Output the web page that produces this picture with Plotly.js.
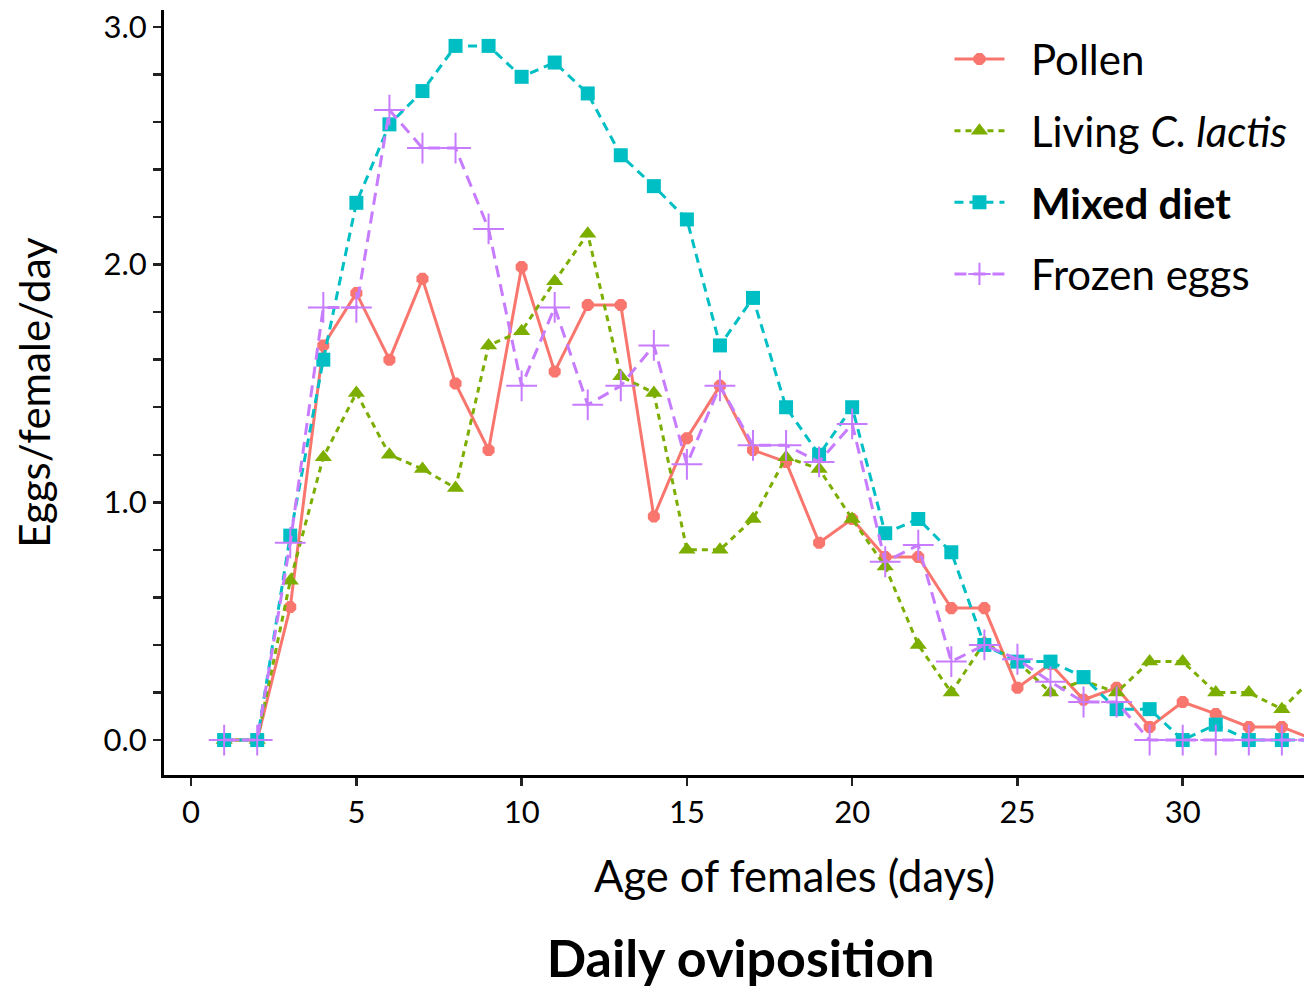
<!DOCTYPE html>
<html><head><meta charset="utf-8">
<script src="https://cdn.plot.ly/plotly-3.0.1.min.js"></script>
<style>html,body{margin:0;padding:0;background:#fff}</style>
</head><body><div id="chart" style="width:1304px;height:988px"></div>
<script>
const days = [1,2,3,4,5,6,7,8,9,10,11,12,13,14,15,16,17,18,19,20,21,22,23,24,25,26,27,28,29,30,31,32,33,34];
const pollen = [0,0,0.56,1.66,1.88,1.60,1.94,1.50,1.22,1.99,1.55,1.83,1.83,0.94,1.27,1.49,1.22,1.17,0.83,0.93,0.77,0.77,0.555,0.555,0.22,0.32,0.17,0.22,0.055,0.16,0.11,0.055,0.055,0];
const living = [0,0,0.67,1.19,1.46,1.20,1.14,1.06,1.66,1.72,1.93,2.13,1.53,1.46,0.80,0.80,0.93,1.19,1.14,0.93,0.73,0.40,0.20,0.41,0.33,0.20,0.25,0.20,0.33,0.33,0.20,0.20,0.13,0.27];
const mixed = [0,0,0.86,1.60,2.26,2.59,2.73,2.92,2.92,2.79,2.85,2.72,2.46,2.33,2.19,1.66,1.86,1.40,1.20,1.40,0.87,0.93,0.79,0.40,0.33,0.33,0.265,0.13,0.13,0,0.065,0,0,0];
const frozen = [0,0,0.83,1.82,1.82,2.65,2.49,2.49,2.15,1.49,1.82,1.41,1.49,1.66,1.16,1.49,1.24,1.24,1.17,1.33,0.75,0.82,0.33,0.40,0.34,0.245,0.16,0.16,0,0,0,0,0,0];
const seriesNames = ['Pollen', 'Living <i>C. lactis</i>', '<b>Mixed diet</b>', 'Frozen eggs'];
const colors = ['#F8766D', '#7CAE00', '#00BFC4', '#C77CFF'];

const FONT = 'Lato, "Open Sans", sans-serif';
const pad = '\u00a0\u00a0';

const traces = [
  {x: days, y: pollen, name: pad + seriesNames[0], legendgroup: 'a', mode: 'lines+markers',
   line: {color: colors[0], width: 3, dash: 'solid'},
   marker: {symbol: 'octagon', size: 13, color: colors[0]}},
  {x: days, y: living, name: pad + seriesNames[1], legendgroup: 'b', mode: 'lines+markers',
   line: {color: colors[1], width: 3, dash: '6px,5px'},
   marker: {symbol: 'triangle-up', size: 15, color: colors[1]}},
  {x: days, y: mixed, name: pad + seriesNames[2], legendgroup: 'c', mode: 'lines+markers',
   line: {color: colors[2], width: 3, dash: '9px,6px'},
   marker: {symbol: 'square', size: 14, color: colors[2]}},
  {x: days, y: frozen, name: pad + seriesNames[3], legendgroup: 'd', mode: 'lines+markers',
   line: {color: colors[3], width: 3, dash: '12px,7px'},
   marker: {symbol: 'cross-thin-open', size: 22, color: colors[3], line: {color: colors[3], width: 2}}}
];

const layout = {
  width: 1304, height: 988,
  margin: {l: 164, r: 0, t: 10, b: 213},
  paper_bgcolor: '#ffffff', plot_bgcolor: '#ffffff',
  font: {family: FONT, color: '#000000'},
  showlegend: true,
  legend: {x: 0.689, y: 0.98, xanchor: 'left', yanchor: 'top',
           font: {size: 42, family: FONT, color: '#000'}, tracegroupgap: 14,
           itemwidth: 50, bgcolor: 'rgba(0,0,0,0)'},
  title: {text: '<b>Daily oviposition</b>', x: 0.568, xref: 'container', y: 0.03, yref: 'container', yanchor: 'middle',
          font: {size: 52, family: FONT, color: '#000'}},
  xaxis: {range: [-0.82, 33.67], tickmode: 'linear', tick0: 0, dtick: 5,
          showgrid: false, zeroline: false, showline: true, linecolor: '#000', linewidth: 3,
          ticks: 'outside', ticklen: 8, tickwidth: 2.5, tickcolor: '#222',
          tickfont: {size: 31, family: FONT, color: '#000'}, fixedrange: true},
  yaxis: {range: [-0.147, 3.071], tickmode: 'linear', tick0: 0, dtick: 1, tickformat: '.1f',
          showgrid: false, zeroline: false, showline: true, linecolor: '#000', linewidth: 3,
          ticks: 'outside', ticklen: 8, tickwidth: 2.5, tickcolor: '#222',
          minor: {tickmode: 'linear', tick0: 0, dtick: 0.2, ticks: 'outside', ticklen: 8, tickwidth: 2.5, tickcolor: '#222', showgrid: false},
          tickfont: {size: 31, family: FONT, color: '#000'},
          title: {text: 'Eggs/female/day', font: {size: 42, family: FONT, color: '#000'}, standoff: 40},
          fixedrange: true},
  annotations: [
    {text: 'Age of females (days)', xref: 'paper', yref: 'paper', x: 0.5535, y: -0.131,
     xanchor: 'center', yanchor: 'middle', showarrow: false,
     font: {size: 43.5, family: FONT, color: '#000'}}
  ]
};

Plotly.newPlot('chart', traces, layout, {displayModeBar: false, staticPlot: true});
</script>
</body></html>
